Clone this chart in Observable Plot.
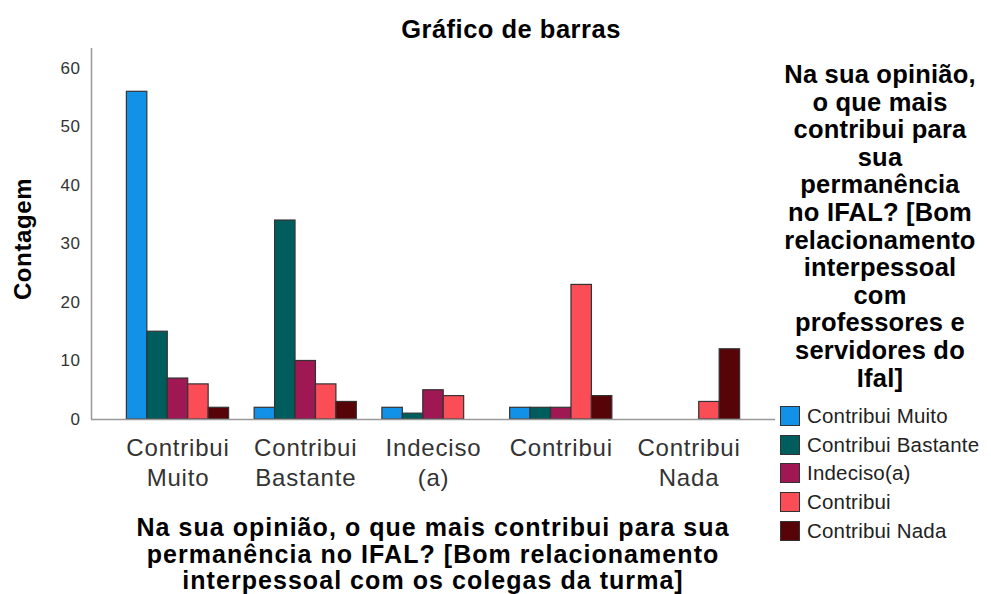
<!DOCTYPE html>
<html>
<head>
<meta charset="utf-8">
<script src="https://cdn.jsdelivr.net/npm/d3@7"></script>
<script src="https://cdn.jsdelivr.net/npm/@observablehq/plot@0.6"></script>
<style>
  body { margin: 0; background: #fff; }
  #wrap { position: relative; width: 991px; height: 594px; overflow: hidden; background: #fff;
          font-family: "Liberation Sans", Arial, sans-serif; }
  #wrap svg { position: absolute; left: 0; top: 0; }
  .title { position: absolute; left: 300px; width: 422px; top: 14px; text-align: center;
           font-weight: bold; font-size: 25.5px; line-height: 30px; letter-spacing: 0.5px; color: #000; white-space: nowrap; }
  .ytitle { position: absolute; left: 23px; top: 239px; transform: translate(-50%, -50%) rotate(-90deg);
            font-weight: bold; font-size: 24px; line-height: 26px; letter-spacing: 0.6px; color: #000; white-space: nowrap; }
  .xtitle { position: absolute; left: 133px; width: 600px; top: 514px; text-align: center;
            font-weight: bold; font-size: 25px; line-height: 26.5px; letter-spacing: 1.05px; color: #000; white-space: nowrap; }
  .ltitle { position: absolute; left: 770px; width: 220px; top: 61px; text-align: center;
            font-weight: bold; font-size: 25.5px; line-height: 27.6px; letter-spacing: 0.2px; color: #000; white-space: nowrap; }
  .litem { position: absolute; left: 780px; height: 28.75px; display: flex; align-items: center; white-space: nowrap;
           font-size: 20.5px; color: #222; letter-spacing: 0.2px; }
  .lbox { width: 20px; height: 20px; box-sizing: border-box; border: 1.5px solid #333; margin-right: 7px; }
  g[aria-label="x-axis tick label"] text { letter-spacing: 0.8px; }
  g[aria-label="y-axis tick label"] text { letter-spacing: 0.5px; }
</style>
</head>
<body>
<div id="wrap"></div>
<script>
// ---- data ----
const groups = ["Contribui Muito", "Contribui Bastante", "Indeciso (a)", "Contribui", "Contribui Nada"];
const groupTickLabels = ["Contribui\nMuito", "Contribui\nBastante", "Indeciso\n(a)", "Contribui", "Contribui\nNada"];
const series = ["Contribui Muito", "Contribui Bastante", "Indeciso(a)", "Contribui", "Contribui Nada"];
const seriesColors = ["#1192e8", "#005d5d", "#9f1853", "#fa4d56", "#570408"];
const valuesContribuiMuito    = [56, 2, 2, 2, 0];
const valuesContribuiBastante = [15, 34, 1, 2, 0];
const valuesIndeciso          = [7, 10, 5, 2, 0];
const valuesContribui         = [6, 6, 4, 23, 3];
const valuesContribuiNada     = [2, 3, 0, 4, 12];
const yTicks = [0, 10, 20, 30, 40, 50, 60];
const chartTitle = "Gráfico de barras";
const yTitle = "Contagem";
const xTitleLines = [
  "Na sua opinião, o que mais contribui para sua",
  "permanência no IFAL? [Bom relacionamento",
  "interpessoal com os colegas da turma]"
];
const legendTitleLines = [
  "Na sua opinião,", "o que mais", "contribui para", "sua", "permanência",
  "no IFAL? [Bom", "relacionamento", "interpessoal", "com",
  "professores e", "servidores do", "Ifal]"
];

// ---- table ----
const seriesValues = [valuesContribuiMuito, valuesContribuiBastante, valuesIndeciso, valuesContribui, valuesContribuiNada];
const rows = series.flatMap((s, si) =>
  seriesValues[si].map((v, gi) => ({group: groups[gi], gi, series: s, si, value: v}))
).filter(d => d.value > 0);

const barFrac = 0.16;            // bar width as fraction of group step
const xDomain = [-0.677, 4.677];
const yMax = 63.4;

const chart = Plot.plot({
  width: 991,
  height: 594,
  marginLeft: 91,
  marginRight: 216,
  marginTop: 48,
  marginBottom: 175,
  style: {fontFamily: "'Liberation Sans', Arial, sans-serif", color: "#333", background: "transparent", overflow: "visible"},
  x: {domain: xDomain},
  y: {domain: [0, yMax]},
  color: {domain: series, range: seriesColors},
  marks: [
    Plot.rect(rows, {
      x1: d => d.gi + (d.si - 2.5) * barFrac,
      x2: d => d.gi + (d.si - 1.5) * barFrac,
      y1: 0,
      y2: "value",
      fill: "series",
      stroke: "#333",
      strokeWidth: 1.2
    }),
    Plot.ruleY([0], {stroke: "#999", strokeWidth: 1.5}),
    Plot.ruleX([xDomain[0]], {y1: 0, y2: yMax, stroke: "#999", strokeWidth: 1.5}),
    Plot.axisY(yTicks, {tickSize: 0, tickPadding: 11, fontSize: 17, fill: "#333", label: null}),
    Plot.axisX(d3.range(groups.length), {
      tickSize: 0, tickPadding: 15, fontSize: 24, lineHeight: 1.25, fill: "#333",
      tickFormat: i => groupTickLabels[i], label: null
    })
  ]
});

const wrap = document.getElementById("wrap");
wrap.appendChild(chart);

function addDiv(cls, html) {
  const d = document.createElement("div");
  d.className = cls;
  d.innerHTML = html;
  wrap.appendChild(d);
  return d;
}
addDiv("title", chartTitle);
addDiv("ytitle", yTitle);
addDiv("xtitle", xTitleLines.join("<br>"));
addDiv("ltitle", legendTitleLines.join("<br>"));
series.forEach((s, i) => {
  const it = addDiv("litem", `<span class="lbox" style="background:${seriesColors[i]}"></span><span>${s}</span>`);
  it.style.top = (401.6 + i * 28.75) + "px";
});
</script>
</body>
</html>
